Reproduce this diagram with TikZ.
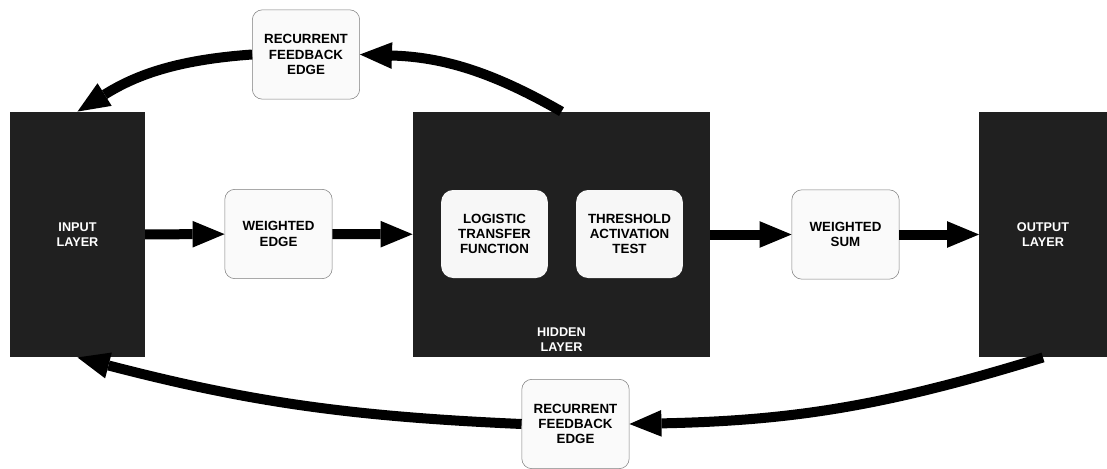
\documentclass[tikz,border=0pt]{standalone}
\usepackage{fontspec}
\setmainfont{Liberation Sans}
\definecolor{layerdark}{RGB}{32, 32, 32}
\definecolor{boxrule}{RGB}{125, 125, 125}
\usepackage{tikz}
\usetikzlibrary{arrows.meta, positioning}

\begin{document}
\begin{tikzpicture}[
  x=0.75pt, y=-0.75pt,
  layerbox/.style={fill=layerdark, text=white, inner sep=0pt, minimum height=184pt, align=center, font=\bfseries\fontsize{9.5}{11.5}\selectfont},
  opbox/.style={draw=boxrule, line width=0.4pt, fill=black!2, rounded corners=7.5pt, minimum width=80.5pt, minimum height=67pt, align=center, font=\bfseries\fontsize{10}{11.5}\selectfont},
  innerbox/.style={fill=black!3, rounded corners=9pt, minimum width=80pt, minimum height=66pt, align=center, font=\bfseries\fontsize{10}{11.5}\selectfont},
  flow/.style={line width=7.5pt, -{Triangle[length=24pt, width=20pt, line width=0pt]}}
]
  \useasboundingbox (0,0) rectangle (1107,468);

  % layers
  \node[layerbox, minimum width=101pt] (input) at (77.5,234.5) {INPUT\\LAYER};
  \node[layerbox, minimum width=223pt] (hidden) at (561.5,234.5) {};
  \node[layerbox, minimum width=95.5pt] (output) at (1043,234.5) {OUTPUT\\LAYER};
  \node[text=white, align=center, font=\bfseries\fontsize{9.5}{11.25}\selectfont] (hiddenlbl) at (561.5,340) {HIDDEN\\LAYER};

  % operations
  \node[innerbox] (logistic) at (494.5,234) {LOGISTIC\\TRANSFER\\FUNCTION};
  \node[innerbox] (threshold) at (629.5,234) {THRESHOLD\\ACTIVATION\\TEST};
  \node[opbox] (wedge) at (278.5,234) {WEIGHTED\\EDGE};
  \node[opbox] (wsum) at (845.5,234.5) {WEIGHTED\\SUM};
  \node[opbox] (fbtop) at (306,54.5) {RECURRENT\\FEEDBACK\\EDGE};
  \node[opbox] (fbbottom) at (575.5,424) {RECURRENT\\FEEDBACK\\EDGE};

  % forward flow
  \draw[flow] (input) -- (wedge);
  \draw[flow] (wedge) -- (hidden);
  \draw[flow] (hidden) -- (wsum);
  \draw[flow] (wsum) -- (output);

  % feedback
  \draw[flow] (hidden.north) to[bend right=14] (fbtop.east);
  \draw[flow] (fbtop.west) to[bend right=14] (input.north);
  \draw[flow] (output.south) to[bend left=8] (fbbottom.east);
  \draw[flow] (fbbottom.west) to[bend left=6] (input.south);
\end{tikzpicture}
\end{document}
